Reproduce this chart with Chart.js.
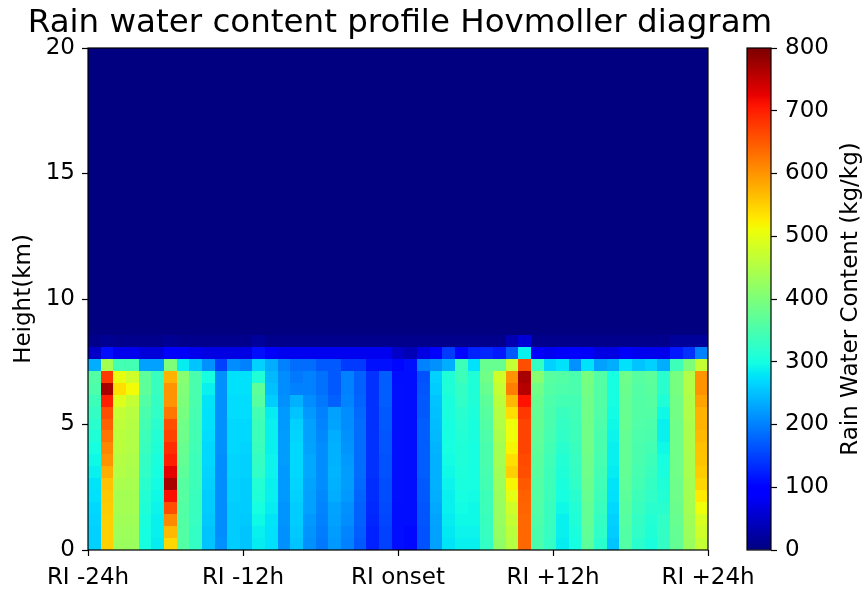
<!DOCTYPE html>
<html>
<head>
<meta charset="utf-8">
<title>Rain water content profile Hovmoller diagram</title>
<script src="https://cdn.jsdelivr.net/npm/chart.js@4.4.1/dist/chart.umd.min.js"></script>
<style>
  html, body { margin: 0; padding: 0; background: #fff; }
  #wrap { position: relative; width: 864px; height: 592px; overflow: hidden; }
  canvas { position: absolute; top: 0; }
  #main { left: 0; }
  #cbar { left: 720px; }
</style>
</head>
<body>
<div id="wrap">
  <canvas id="main" width="800" height="592"></canvas>
  <canvas id="cbar" width="144" height="592"></canvas>
</div>
<script>
// ---- axis ticks ----
const tickHours = [-24, -12, 0, 12, 24];
const tickLabels = ['RI -24h', 'RI -12h', 'RI onset', 'RI +12h', 'RI +24h'];
const heightTicksKm = [0, 5, 10, 15, 20];
const colorbarTicks = [0, 100, 200, 300, 400, 500, 600, 700, 800];

// ---- rain water content (kg/kg), hourly profiles RI -24h .. RI +24h ----
// one array per model level, lowest level first
const rwcL00 = [265,552,430,430,300,285,545,360,330,255,215,260,255,285,275,215,255,215,195,220,200,170,125,150,112,108,165,225,280,290,290,330,420,455,640,350,330,285,300,370,320,255,360,320,305,330,375,430,470];
const rwcL01 = [265,552,432,432,302,288,570,360,330,255,212,260,255,290,278,215,258,218,198,222,205,172,128,152,112,108,165,228,282,292,292,332,422,460,640,352,332,288,305,372,325,260,362,325,310,330,378,432,480];
const rwcL02 = [268,553,435,435,305,290,610,360,332,258,210,262,258,295,280,218,260,220,200,225,210,175,130,155,112,110,168,230,285,295,295,335,425,470,640,355,335,290,310,375,330,265,365,330,315,325,380,435,490];
const rwcL03 = [270,555,438,438,310,292,660,360,335,260,210,262,260,300,285,218,262,225,205,230,215,178,132,158,112,110,168,232,288,298,295,338,428,480,642,358,335,295,315,378,335,270,368,335,320,320,382,438,510];
const rwcL04 = [275,558,440,440,315,295,715,365,335,262,210,265,262,310,290,220,265,228,208,235,220,180,135,160,114,110,170,235,290,300,298,340,430,500,645,360,338,300,320,380,340,275,370,340,325,315,385,440,530];
const rwcL05 = [280,565,445,442,320,298,770,365,338,265,210,265,262,315,290,220,268,230,210,240,222,182,135,162,114,112,170,238,292,305,300,345,432,520,650,362,340,305,325,382,342,280,372,345,330,310,385,440,545];
const rwcL06 = [290,580,450,445,325,300,730,370,340,268,212,268,265,325,292,220,270,232,212,242,222,185,138,165,115,112,172,240,295,308,300,348,435,550,660,365,340,310,330,385,345,285,375,348,335,305,388,442,555];
const rwcL07 = [295,600,455,448,330,305,700,375,340,270,212,268,265,330,292,222,270,232,212,240,220,185,138,165,115,112,172,240,298,310,302,350,438,540,665,368,342,315,332,385,348,288,375,350,340,300,388,442,560];
const rwcL08 = [300,615,460,450,335,310,690,380,342,270,214,270,268,335,290,222,270,230,210,238,218,185,140,168,115,112,172,242,300,312,302,352,440,520,670,370,345,320,335,388,350,290,378,352,345,295,390,445,565];
const rwcL09 = [310,630,462,452,340,315,670,385,345,272,215,270,270,340,290,222,268,228,208,235,215,185,140,168,115,112,172,245,300,315,305,355,445,510,670,372,348,325,338,388,352,292,378,355,350,290,390,445,570];
const rwcL10 = [320,645,465,455,345,320,660,390,345,275,215,270,270,340,288,220,265,225,205,230,212,185,140,170,115,112,172,248,302,318,305,360,450,510,670,375,350,330,340,390,355,295,380,358,355,290,390,445,575];
const rwcL11 = [330,660,470,458,350,325,625,395,348,275,215,272,272,345,285,220,255,220,200,225,210,182,140,170,115,112,170,250,305,320,308,365,455,540,680,378,352,335,342,390,358,298,380,360,360,295,392,448,575];
const rwcL12 = [340,700,495,470,360,330,600,400,350,280,215,272,272,365,260,215,240,210,195,175,205,180,140,172,115,112,170,255,305,325,310,370,460,570,710,380,355,345,345,390,360,300,380,360,365,310,392,448,590];
const rwcL13 = [355,770,540,515,370,335,600,405,350,290,215,275,275,370,250,210,200,200,190,170,200,178,140,172,115,110,168,260,310,330,310,380,470,620,760,390,360,355,350,392,360,300,382,362,368,320,395,450,600];
const rwcL14 = [360,680,505,480,370,335,575,410,350,300,215,275,275,310,245,210,195,200,190,170,200,178,140,172,112,110,165,265,310,340,310,390,480,600,770,410,365,360,350,395,362,300,385,365,370,320,395,450,600];
const rwcL15 = [235,440,345,345,225,225,400,285,255,215,150,210,200,265,235,200,185,185,170,170,145,145,115,115,105,115,200,215,235,340,275,380,380,470,660,330,265,275,215,275,225,235,275,255,265,235,340,400,470];
const rwcL16 = [50,110,75,75,65,65,100,85,75,70,70,70,70,110,85,80,80,80,80,80,80,80,80,80,50,40,70,95,145,105,125,130,120,170,290,85,80,85,100,85,70,70,85,80,75,75,120,140,200];
const rwcL17 = [10,15,10,10,10,10,15,10,10,10,10,10,10,20,10,10,10,10,10,10,10,10,10,10,10,10,10,10,12,10,12,12,12,35,60,10,10,10,10,10,10,10,10,10,10,10,20,20,20];
// every level above holds no rain water
const rwcAloft = [0,0,0,0,0,0,0,0,0,0,0,0,0,0,0,0,0,0,0,0,0,0,0,0,0,0,0,0,0,0,0,0,0,0,0,0,0,0,0,0,0,0,0,0,0,0,0,0,0];

const rainLevels = [rwcL00, rwcL01, rwcL02, rwcL03, rwcL04, rwcL05, rwcL06, rwcL07, rwcL08,
                    rwcL09, rwcL10, rwcL11, rwcL12, rwcL13, rwcL14, rwcL15, rwcL16, rwcL17];

// ---- grid geometry ----
const levelCount = 42;          // model levels between 0 and 20 km
const topKm = 20;
const levelDepth = topKm / levelCount;
const firstHour = -24, lastHour = 24;
const profileCount = rwcL00.length;
const hourEdge = i => firstHour + i * (lastHour - firstHour) / profileCount;
const vmin = 0, vmax = 800;

// ---- jet colour map ----
const jetR = [[0, 0], [0.35, 0], [0.66, 1], [0.89, 1], [1, 0.5]];
const jetG = [[0, 0], [0.125, 0], [0.375, 1], [0.64, 1], [0.91, 0], [1, 0]];
const jetB = [[0, 0.5], [0.11, 1], [0.34, 1], [0.65, 0], [1, 0]];
function seg(pts, t) {
  for (let i = 1; i < pts.length; i++) {
    if (t <= pts[i][0]) {
      const [x0, y0] = pts[i - 1], [x1, y1] = pts[i];
      return y0 + (y1 - y0) * (t - x0) / (x1 - x0);
    }
  }
  return pts[pts.length - 1][1];
}
function jet(v) {
  let t = (v - vmin) / (vmax - vmin);
  t = Math.min(1, Math.max(0, t));
  t = Math.min(255, Math.floor(t * 256)) / 255;   // 256-entry lookup table
  const r = Math.round(255 * seg(jetR, t));
  const g = Math.round(255 * seg(jetG, t));
  const b = Math.round(255 * seg(jetB, t));
  return `rgb(${r},${g},${b})`;
}

Chart.defaults.font.family = "'DejaVu Sans', 'Liberation Sans', sans-serif";
Chart.defaults.font.size = 23;
Chart.defaults.color = '#000';

// ---- heat map cells, placed through the chart scales ----
const hovmollerCells = {
  id: 'hovmollerCells',
  beforeDatasetsDraw(chart) {
    const { ctx, chartArea: a, scales: { x, y } } = chart;
    ctx.save();
    ctx.beginPath();
    ctx.rect(a.left, a.top, a.width, a.height);
    ctx.clip();
    for (let k = 0; k < levelCount; k++) {
      const row = k < rainLevels.length ? rainLevels[k] : rwcAloft;
      const yb = Math.round(y.getPixelForValue(k * levelDepth));
      const yt = Math.round(y.getPixelForValue((k + 1) * levelDepth));
      for (let c = 0; c < row.length; c++) {
        const xl = Math.round(x.getPixelForValue(hourEdge(c)));
        const xr = Math.round(x.getPixelForValue(hourEdge(c + 1)));
        ctx.fillStyle = jet(row[c]);
        ctx.fillRect(xl, yt, xr - xl, yb - yt);
      }
    }
    ctx.restore();
  },
  afterDatasetsDraw(chart) {
    const { ctx, chartArea: a } = chart;
    ctx.save();
    ctx.strokeStyle = '#000';
    ctx.lineWidth = 1.2;
    ctx.strokeRect(a.left, a.top, a.width, a.height);
    ctx.restore();
  }
};

const tickGrid = { display: true, drawOnChartArea: false, drawTicks: true, tickLength: 6, tickWidth: 1.2, tickColor: '#000', color: '#000' };

new Chart(document.getElementById('main'), {
  type: 'scatter',
  data: { datasets: [{ data: [], pointRadius: 0 }] },
  options: {
    responsive: false,
    animation: false,
    devicePixelRatio: 1,
    layout: { padding: 0 },
    events: [],
    plugins: {
      legend: { display: false },
      tooltip: { enabled: false },
      title: {
        display: true,
        text: 'Rain water content profile Hovmoller diagram',
        font: { size: 32.5, weight: 'normal' },
        color: '#000',
        padding: { top: 4, bottom: 5 }
      }
    },
    scales: {
      x: {
        type: 'linear',
        min: firstHour,
        max: lastHour,
        afterBuildTicks: s => { s.ticks = tickHours.map(v => ({ value: v })); },
        ticks: {
          callback: v => tickLabels[tickHours.indexOf(v)],
          autoSkip: false, maxRotation: 0, padding: 8
        },
        grid: tickGrid,
        border: { display: false },
        afterFit: s => { s.height = 42; }
      },
      y: {
        type: 'linear',
        min: 0,
        max: topKm,
        afterBuildTicks: s => { s.ticks = heightTicksKm.map(v => ({ value: v })); },
        ticks: { padding: 7 },
        grid: tickGrid,
        border: { display: false },
        title: { display: true, text: 'Height(km)', padding: { top: 10, bottom: 0 } },
        afterFit: s => { s.width = 88; }
      },
      gutter: {
        type: 'linear',
        position: 'right',
        display: true,
        grid: { display: false },
        ticks: { display: false },
        border: { display: false },
        afterFit: s => { s.width = 92; }
      }
    }
  },
  plugins: [hovmollerCells]
});

// ---- colour bar ----
function jetGradient(chart) {
  const { ctx, chartArea, scales } = chart;
  if (!chartArea) return jet(vmin);
  const y = scales.y;
  const g = ctx.createLinearGradient(0, y.getPixelForValue(vmin), 0, y.getPixelForValue(vmax));
  const steps = 128;
  for (let i = 0; i <= steps; i++) {
    const t = i / steps;
    g.addColorStop(t, jet(vmin + t * (vmax - vmin)));
  }
  return g;
}

const colorbarFrame = {
  id: 'colorbarFrame',
  afterDatasetsDraw(chart) {
    const { ctx, chartArea: a } = chart;
    ctx.save();
    ctx.strokeStyle = '#000';
    ctx.lineWidth = 1.2;
    ctx.strokeRect(a.left, a.top, a.width, a.height);
    ctx.restore();
  },
  afterDraw(chart) {
    const { ctx, chartArea: a } = chart;
    ctx.save();
    ctx.translate(a.right + 80, (a.top + a.bottom) / 2);
    ctx.rotate(-Math.PI / 2);
    ctx.font = "23px 'DejaVu Sans', 'Liberation Sans', sans-serif";
    ctx.fillStyle = '#000';
    ctx.textAlign = 'center';
    ctx.textBaseline = 'middle';
    ctx.fillText('Rain Water Content (kg/kg)', 0, 0);
    ctx.restore();
  }
};

new Chart(document.getElementById('cbar'), {
  type: 'bar',
  data: {
    labels: [''],
    datasets: [{
      data: [[vmin, vmax]],
      backgroundColor: ctx => jetGradient(ctx.chart),
      borderWidth: 0,
      barPercentage: 1,
      categoryPercentage: 1
    }]
  },
  options: {
    responsive: false,
    animation: false,
    devicePixelRatio: 1,
    events: [],
    layout: { padding: { left: 27, top: 48, bottom: 42, right: 0 } },
    plugins: { legend: { display: false }, tooltip: { enabled: false } },
    scales: {
      x: { display: false },
      y: {
        position: 'right',
        min: vmin,
        max: vmax,
        afterBuildTicks: s => { s.ticks = colorbarTicks.map(v => ({ value: v })); },
        ticks: { padding: 8 },
        grid: tickGrid,
        border: { display: false },
        afterFit: s => { s.width = 93; }
      }
    }
  },
  plugins: [colorbarFrame]
});
</script>
</body>
</html>
